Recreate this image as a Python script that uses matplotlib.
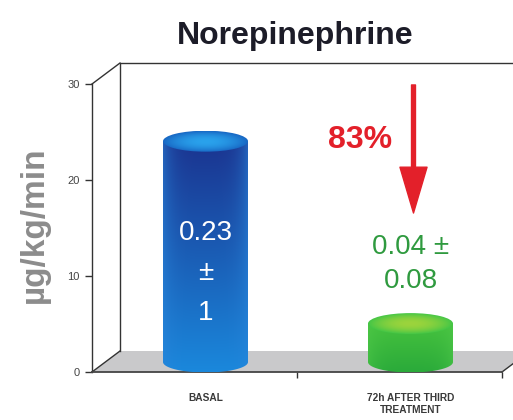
import numpy as np
import matplotlib
matplotlib.use("Agg")
import matplotlib.pyplot as plt
from matplotlib.patches import Ellipse, Polygon, PathPatch
from matplotlib.path import Path
from matplotlib.colors import to_rgb

# ---- data ----
categories = ["BASAL", "72h AFTER THIRD\nTREATMENT"]
values = [0.23, 0.04]
value_labels = ["0.23\n±\n1", "0.04 ±\n0.08"]
y_ticks = [0.0, 0.1, 0.2, 0.3]
y_tick_labels = ["0", "10", "20", "30"]
reduction_label = "83%"

plt.rcParams['font.family'] = ['Liberation Sans', 'DejaVu Sans']

W, H = 513, 420
fig = plt.figure(figsize=(W / 100, H / 100), dpi=100)
ax = fig.add_axes([92 / W, 48 / H, 410 / W, 288 / H])
ax.set_xlim(-0.5, 1.5)
ax.set_ylim(0, 0.30)
xmin, xmax = ax.get_xlim()
ymin, ymax = ax.get_ylim()

# pixels per data unit
sx = 410 / (xmax - xmin)
sy = 288 / (ymax - ymin)

# depth offsets of the pseudo-3D box and of the bars inside it
wall_dx, wall_dy = 28 / sx, 21 / sy
bar_dx, bar_dy = 11 / sx, 10 / sy
bar_w = 85 / sx
cap_h = 21 / sy

line_col = "#333333"

# floor
floor = Polygon([(xmin, 0), (xmax, 0), (xmax + wall_dx, wall_dy), (xmin + wall_dx, wall_dy)],
                closed=True, facecolor="#c9c9cb", edgecolor="none", zorder=1, clip_on=False)
ax.add_patch(floor)

# back wall outline and depth edges
ax.plot([xmin + wall_dx, xmin + wall_dx, xmax + wall_dx + 1],
        [wall_dy, ymax + wall_dy, ymax + wall_dy], color=line_col, lw=1.0,
        clip_on=False, zorder=1.5)
for (x0, y0) in [(xmin, ymax), (xmin, 0), (xmax, 0)]:
    ax.plot([x0, x0 + wall_dx], [y0, y0 + wall_dy], color=line_col, lw=1.0,
            clip_on=False, zorder=1.5)


def mix(c1, c2, w):
    return np.asarray(c1) * (1 - w) + np.asarray(c2) * w


def draw_cylinder(cx, base, height, c_top, c_bottom, c_edge, cap_center, cap_edge):
    n = 160
    top = base + height
    # body: rectangle + lower half of the base ellipse
    theta = np.linspace(np.pi, 2 * np.pi, 80)
    verts = [(cx - bar_w / 2, top), (cx - bar_w / 2, base)]
    verts += list(zip(cx + bar_w / 2 * np.cos(theta), base + cap_h / 2 * np.sin(theta)))
    verts += [(cx + bar_w / 2, top), (cx - bar_w / 2, top)]
    body = PathPatch(Path(verts, closed=True), facecolor="none", edgecolor="none",
                     transform=ax.transData)
    t = np.linspace(0, 1, n)[:, None, None]
    s = np.linspace(-1, 1, n)[None, :, None]
    col = mix(to_rgb(c_bottom), to_rgb(c_top), t)
    col = mix(col, to_rgb(c_edge), 0.55 * np.abs(s) ** 4)
    im = ax.imshow(np.clip(col, 0, 1), origin="lower", aspect="auto",
                   extent=[cx - bar_w / 2, cx + bar_w / 2, base - cap_h / 2, top],
                   zorder=3, interpolation="bilinear")
    im.set_clip_path(body)

    # top cap
    cap = Ellipse((cx, top), bar_w, cap_h, facecolor="none", edgecolor="none",
                  transform=ax.transData)
    u = np.linspace(-1, 1, n)[:, None, None]
    v = np.linspace(-1, 1, n)[None, :, None]
    r = np.clip(np.sqrt(v ** 2 + u ** 2), 0, 1)
    ccol = mix(to_rgb(cap_center), to_rgb(cap_edge), r ** 2)
    im2 = ax.imshow(np.clip(ccol, 0, 1), origin="lower", aspect="auto",
                    extent=[cx - bar_w / 2, cx + bar_w / 2, top - cap_h / 2, top + cap_h / 2],
                    zorder=3.5, interpolation="bilinear")
    im2.set_clip_path(cap)


styles = [
    dict(c_top="#1b3490", c_bottom="#1a88dc", c_edge="#2a86dc",
         cap_center="#2aa2ec", cap_edge="#1868c4"),
    dict(c_top="#46c23e", c_bottom="#2aaa3a", c_edge="#4fc84a",
         cap_center="#9cd43c", cap_edge="#44c646"),
]

for i, (val, st) in enumerate(zip(values, styles)):
    draw_cylinder(i + bar_dx, bar_dy, val, **st)

ax.set_xlim(xmin, xmax)
ax.set_ylim(ymin, ymax)

# value labels
ax.text(0 + bar_dx, 0.103, value_labels[0], color="white", fontsize=20,
        ha="center", va="center", linespacing=1.7, zorder=6)
ax.text(1 + bar_dx, 0.1125, value_labels[1], color="#2f9a3f", fontsize=20,
        ha="center", va="center", linespacing=1.45, zorder=6)

# reduction arrow
red = "#e3202a"
arrow_x = 1 + bar_dx + 3 / sx
ax.annotate("", xy=(arrow_x, 0.1656), xytext=(arrow_x, 0.299),
            arrowprops=dict(arrowstyle="simple,head_length=2.2,head_width=1.3,tail_width=0.19",
                            color=red, mutation_scale=15, shrinkA=0, shrinkB=0),
            zorder=6, annotation_clip=False)
ax.text(0.807, 0.2417, reduction_label, color=red, fontsize=23, weight="bold",
        ha="center", va="center", zorder=6)

# category labels
for i, cat in enumerate(categories):
    ax.annotate(cat, xy=(i + bar_dx, 0), xytext=(0, -15), textcoords="offset points",
                ha="center", va="top", fontsize=7.3, weight="bold", color="#3a3a3a",
                linespacing=1.3, annotation_clip=False)

# axes styling
for side in ("top", "right"):
    ax.spines[side].set_visible(False)
ax.spines["left"].set_color(line_col)
ax.spines["left"].set_linewidth(1.0)
ax.spines["bottom"].set_color("#444444")
ax.spines["bottom"].set_linewidth(1.3)
ax.set_facecolor("none")
ax.set_yticks(y_ticks)
ax.set_yticklabels(y_tick_labels)
ax.set_xticks([0.5, 1.5])
ax.set_xticklabels([])
ax.tick_params(axis="y", direction="out", length=5, width=1, color=line_col,
               labelcolor="#444444", labelsize=8, pad=4)
ax.tick_params(axis="x", direction="out", length=4, width=1, color=line_col)

fig.text(295 / W, 1 - 36 / H, "Norepinephrine", ha="center", va="center",
         fontsize=23, weight="bold", color="#1c1c28")
fig.text(34 / W, 1 - 225 / H, "µg/kg/min", rotation=90, ha="center", va="center",
         fontsize=24, weight="bold", color="#8c8c8c")

fig.savefig("out.png", dpi=100)
